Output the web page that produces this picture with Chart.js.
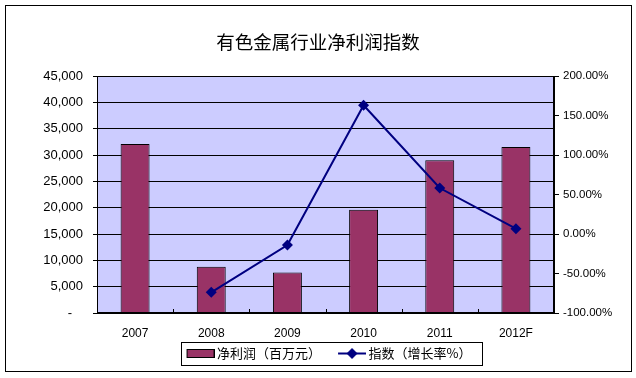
<!DOCTYPE html>
<html><head><meta charset="utf-8">
<script src="https://cdn.jsdelivr.net/npm/chart.js@4.4.1/dist/chart.umd.min.js"></script>
<style>html,body{margin:0;padding:0;background:#fff;}</style>
</head><body>
<canvas id="c" width="636" height="378"></canvas>
<script>
const categories = ['2007', '2008', '2009', '2010', '2011', '2012F'];
const netProfit = [32100, 8800, 7700, 19600, 29000, 31500];
const growthIndex = [null, -73.8, -13.9, 163, 58.2, 6.7];
const leftTickLabels = ['-   ', '5,000', '10,000', '15,000', '20,000', '25,000', '30,000', '35,000', '40,000', '45,000'];
const rightTickLabels = ['-100.00%', '-50.00%', '0.00%', '50.00%', '100.00%', '150.00%', '200.00%'];
const seriesNames = ['净利润（百万元）', '指数（增长率%）'];
const titleText = '有色金属行业净利润指数';

const CJK = '"Noto Sans CJK SC", "Liberation Sans", sans-serif';
const LAT = '"Liberation Sans", Arial, sans-serif';

// legend swatches: drawn in the right part of a wider transparent canvas
const SW_W = 39, SW_O = 11;
function barSwatch() {
  const c = document.createElement('canvas'); c.width = SW_W; c.height = 9;
  const x = c.getContext('2d');
  x.fillStyle = '#993366'; x.fillRect(SW_O, 0, 28, 9);
  x.strokeStyle = '#000'; x.lineWidth = 1; x.strokeRect(SW_O + 0.5, 0.5, 27, 8);
  return c;
}
function lineSwatch() {
  const c = document.createElement('canvas'); c.width = SW_W; c.height = 13;
  const x = c.getContext('2d');
  x.strokeStyle = '#000080'; x.lineWidth = 2;
  x.beginPath(); x.moveTo(SW_O, 6.5); x.lineTo(SW_O + 28, 6.5); x.stroke();
  x.fillStyle = '#000080';
  const cx = SW_O + 14;
  x.beginPath(); x.moveTo(cx, 1); x.lineTo(cx + 5.5, 6.5); x.lineTo(cx, 12); x.lineTo(cx - 5.5, 6.5); x.closePath(); x.fill();
  return c;
}
const swatches = [barSwatch(), lineSwatch()];

const decor = {
  id: 'decor',
  beforeDraw(chart) {
    const ctx = chart.ctx, a = chart.chartArea;
    ctx.save();
    ctx.fillStyle = '#fff'; ctx.fillRect(0, 0, chart.width, chart.height);
    ctx.fillStyle = '#CCCCFF'; ctx.fillRect(a.left, a.top, a.right - a.left, a.bottom - a.top);
    ctx.restore();
  },
  afterDraw(chart) {
    const ctx = chart.ctx, a = chart.chartArea;
    ctx.save();
    ctx.strokeStyle = '#000'; ctx.lineWidth = 1;
    ctx.strokeRect(5.5, 5.5, 626, 366);
    ctx.strokeRect(Math.round(a.left) + 0.5, Math.round(a.top) + 0.5, Math.round(a.right - a.left) - 1, Math.round(a.bottom - a.top) - 1);
    // inward tick marks on the category axis, between categories
    const xs = chart.scales.x;
    ctx.beginPath();
    for (let i = 0; i < categories.length - 1; i++) {
      const px = Math.round((xs.getPixelForValue(i) + xs.getPixelForValue(i + 1)) / 2) + 0.5;
      ctx.moveTo(px, Math.round(a.bottom)); ctx.lineTo(px, Math.round(a.bottom) - 4);
    }
    ctx.stroke();
    // legend frame
    const hb = chart.legend.legendHitBoxes;
    if (hb && hb.length) {
      const l = hb[0].left + 1, r = hb[hb.length - 1].left + hb[hb.length - 1].width + 10;
      const t = hb[0].top - 5, b = hb[0].top + hb[0].height + 5;
      ctx.strokeRect(Math.round(l) + 0.5, Math.round(t) + 0.5, Math.round(r - l), Math.round(b - t));
    }
    ctx.restore();
  }
};

new Chart(document.getElementById('c'), {
  data: {
    labels: categories,
    datasets: [
      { type: 'bar', label: seriesNames[0], data: netProfit, yAxisID: 'y', order: 2,
        backgroundColor: '#993366', borderColor: '#000', borderWidth: 1,
        categoryPercentage: 1, barPercentage: 0.38 },
      { type: 'line', label: seriesNames[1], data: growthIndex, yAxisID: 'y1', order: 1,
        borderColor: '#000080', borderWidth: 2, backgroundColor: '#000080', tension: 0,
        pointStyle: 'rectRot', pointRadius: 5.5, pointBackgroundColor: '#000080', pointBorderWidth: 0 }
    ]
  },
  options: {
    responsive: false, animation: false, devicePixelRatio: 1,
    layout: { padding: { left: 0, right: 0, top: 0, bottom: 8 } },
    plugins: {
      tooltip: { enabled: false },
      title: { display: true, text: titleText, color: '#000',
        font: { family: CJK, size: 18.5, weight: 'normal', lineHeight: 1.2 },
        padding: { top: 30.9, bottom: 22.9 } },
      legend: {
        position: 'bottom', fullSize: false,
        labels: {
          usePointStyle: true, pointStyleWidth: 31, boxHeight: 12, padding: 10, color: '#000',
          font: { family: CJK, size: 13 },
          generateLabels: (chart) => chart.data.datasets.map((ds, i) => ({
            text: ds.label, pointStyle: swatches[i], datasetIndex: i, hidden: false,
            fillStyle: '#000', strokeStyle: '#000', lineWidth: 0, fontColor: '#000'
          }))
        }
      }
    },
    scales: {
      x: {
        offset: true,
        grid: { offset: true, drawOnChartArea: false, drawTicks: false, color: '#000', lineWidth: 1 },
        border: { display: true, color: '#000', width: 1 },
        ticks: { padding: 13.5, color: '#000', font: { family: LAT, size: 12 }, maxRotation: 0, autoSkip: false },
        afterFit: (s) => { s.height = 24; }
      },
      y: {
        position: 'left', min: 0, max: 45000,
        ticks: { stepSize: 5000, padding: 10, color: '#000', font: { family: LAT, size: 13 },
          callback: (v, i) => leftTickLabels[i] },
        grid: { color: '#000', lineWidth: 1, tickLength: 4 },
        border: { display: true, color: '#000', width: 1 },
        afterFit: (s) => { s.width = 97; }
      },
      y1: {
        position: 'right', min: -100, max: 200,
        ticks: { stepSize: 50, padding: 4, color: '#000', font: { family: LAT, size: 11.5 },
          callback: (v, i) => rightTickLabels[i] },
        grid: { drawOnChartArea: false, color: '#000', lineWidth: 1, tickLength: 5 },
        border: { display: true, color: '#000', width: 1 },
        afterFit: (s) => { s.width = 82; }
      }
    }
  },
  plugins: [decor]
});
</script>
</body></html>
